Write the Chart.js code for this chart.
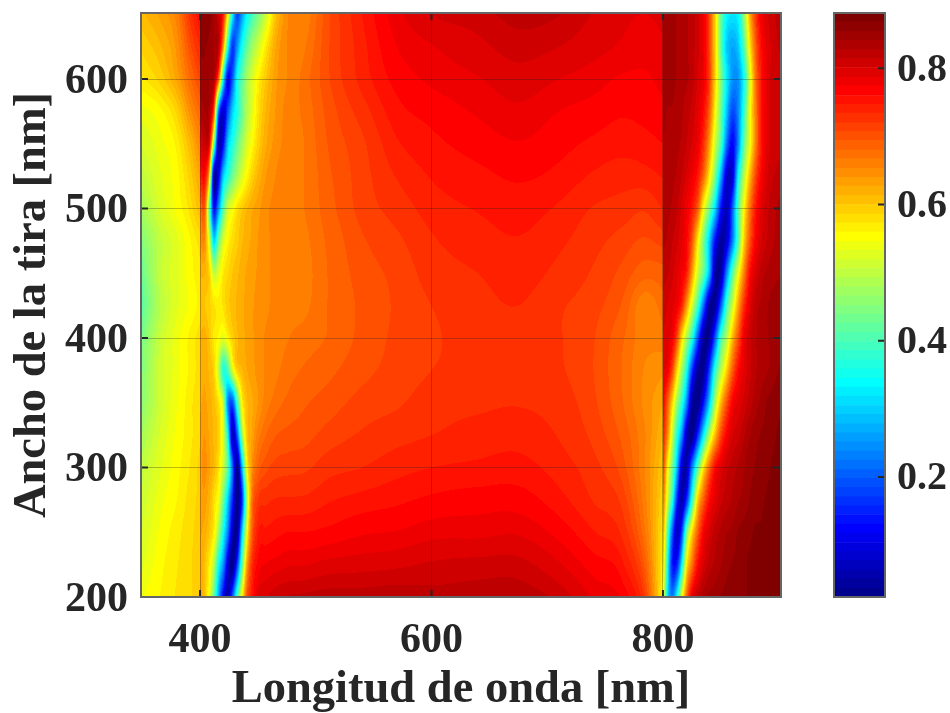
<!DOCTYPE html>
<html>
<head>
<meta charset="utf-8">
<title>Longitud de onda vs ancho de la tira</title>
<script src="https://cdn.jsdelivr.net/npm/chart.js@4"></script>
<style>
  html, body { margin: 0; padding: 0; background: #fff; }
  #wrap { position: relative; width: 950px; height: 713px; overflow: hidden; }
  canvas { position: absolute; top: 0; }
</style>
</head>
<body>
<div id="wrap">
  <canvas id="map" width="950" height="713" style="left:0"></canvas>
  <canvas id="bar" width="130" height="713" style="left:820px"></canvas>
</div>
<script>
// Values. Columns are denser around the two dark bands and
// doubled at 400 and 800, where the map jumps.
const wavelengths = [350,365,380,392,399.9, 400.1,404,408,412,416,420,424,428,432,436,440,445,450,457,465,475,
  490,510,540,570,600,640,675,710,740,765,785,799.9,
  800.1,804,808,812,816,820,825,830,835,840,845,850,855,860,865,870,875,880,885,890,900];
const widths = [200,225,250,275,300,325,350,375,400,425,450,475,500,525,550,575,600,625,650];

const row200 = [.545,.56,.575,.585,.595, .63,.60,.54,.42,.26,.115,.045,.20,.40,.55,.69,.75,.79,.80,.81,.815, .818,.822,.822,.824,.82,.822,.823,.81,.785,.77,.711,.553, .56,.32,.23,.35,.53,.67,.79,.82,.835,.845,.85,.855,.86,.865,.865,.865,.87,.87,.875,.875,.88];
const row225 = [.53,.555,.572,.585,.595, .63,.605,.565,.49,.35,.25,.095,.025,.17,.40,.61,.73,.765,.775,.78,.785, .786,.792,.795,.798,.803,.806,.806,.789,.767,.75,.686,.563, .61,.35,.15,.15,.32,.55,.67,.76,.80,.82,.83,.84,.85,.855,.86,.865,.87,.87,.875,.875,.88];
const row250 = [.52,.548,.568,.583,.593, .63,.62,.60,.565,.47,.35,.23,.075,.035,.28,.52,.69,.745,.75,.755,.76, .76,.764,.772,.775,.782,.783,.785,.769,.748,.73,.666,.573, .65,.41,.21,.075,.165,.41,.58,.69,.77,.80,.82,.83,.84,.845,.855,.86,.865,.87,.87,.875,.88];
const row275 = [.51,.54,.56,.58,.59, .635,.635,.615,.58,.54,.43,.30,.155,.025,.145,.45,.67,.72,.73,.735,.736, .737,.745,.752,.757,.763,.767,.767,.752,.733,.715,.656,.586, .69,.51,.37,.165,.055,.145,.37,.59,.69,.76,.79,.81,.82,.83,.84,.845,.855,.86,.865,.87,.875];
const row300 = [.50,.53,.555,.575,.59, .635,.645,.63,.61,.575,.51,.41,.215,.025,.26,.53,.645,.685,.703,.712,.715, .717,.728,.734,.742,.747,.75,.752,.741,.725,.70,.651,.60, .73,.56,.44,.29,.095,.055,.225,.41,.57,.68,.76,.79,.81,.82,.83,.84,.85,.855,.86,.865,.875];
const row325 = [.48,.52,.55,.57,.585, .63,.64,.625,.61,.59,.52,.35,.075,.195,.45,.59,.63,.66,.68,.693,.698, .702,.712,.722,.729,.734,.74,.742,.733,.716,.69,.653,.613, .75,.65,.51,.37,.255,.085,.025,.155,.33,.49,.61,.71,.77,.80,.81,.825,.84,.85,.855,.86,.87];
const row350 = [.46,.51,.545,.57,.585, .625,.63,.62,.605,.575,.50,.24,.19,.38,.55,.605,.625,.64,.66,.673,.683, .692,.70,.712,.718,.727,.731,.733,.727,.71,.681,.648,.628, .78,.69,.59,.47,.38,.255,.055,.025,.135,.295,.48,.61,.70,.77,.79,.805,.82,.835,.845,.855,.865];
const row375 = [.45,.51,.54,.565,.58, .62,.625,.61,.59,.50,.37,.40,.52,.59,.61,.625,.635,.645,.655,.663,.673, .682,.69,.703,.712,.72,.725,.727,.722,.707,.679,.651,.643, .79,.775,.71,.59,.48,.37,.175,.045,.035,.175,.37,.49,.59,.69,.76,.79,.81,.825,.835,.84,.855];
const row400 = [.44,.505,.54,.565,.58, .615,.62,.60,.57,.555,.53,.56,.59,.61,.62,.63,.638,.645,.655,.66,.666, .672,.681,.698,.71,.718,.725,.727,.721,.708,.682,.658,.66, .80,.79,.775,.71,.59,.49,.37,.195,.045,.045,.195,.39,.49,.61,.70,.78,.81,.825,.835,.84,.85];
const row425 = [.42,.49,.53,.55,.565, .60,.60,.59,.575,.565,.575,.595,.605,.615,.623,.63,.638,.645,.65,.658,.663, .664,.68,.697,.709,.72,.729,.734,.722,.712,.692,.657,.674, .81,.80,.79,.775,.74,.65,.52,.39,.215,.045,.045,.195,.39,.51,.63,.73,.79,.82,.83,.84,.85];
const row450 = [.43,.50,.53,.555,.57, .615,.615,.59,.50,.53,.57,.585,.60,.61,.62,.628,.635,.642,.65,.656,.663, .662,.68,.70,.711,.726,.734,.74,.73,.718,.703,.685,.688, .82,.815,.805,.79,.775,.75,.64,.51,.42,.275,.055,.055,.235,.41,.54,.66,.76,.80,.82,.83,.84];
const row475 = [.45,.50,.53,.56,.58, .64,.65,.52,.31,.43,.52,.56,.58,.595,.61,.62,.63,.64,.65,.656,.663, .664,.682,.705,.717,.732,.741,.746,.737,.725,.714,.705,.712, .83,.825,.815,.805,.79,.77,.70,.57,.44,.30,.135,.045,.09,.23,.41,.59,.70,.77,.80,.815,.835];
const row500 = [.48,.52,.55,.58,.61, .67,.69,.43,.135,.255,.41,.51,.545,.575,.595,.61,.625,.635,.65,.656,.663, .667,.687,.712,.726,.74,.748,.753,.745,.733,.728,.722,.735, .835,.83,.825,.815,.80,.78,.75,.69,.55,.44,.31,.14,.065,.20,.41,.555,.67,.75,.79,.81,.83];
const row525 = [.50,.53,.555,.595,.63, .74,.76,.60,.065,.115,.295,.37,.43,.48,.52,.555,.59,.615,.64,.653,.663, .667,.69,.714,.735,.748,.756,.762,.756,.745,.74,.742,.748, .84,.835,.83,.825,.815,.80,.78,.75,.68,.57,.44,.27,.09,.095,.34,.49,.61,.71,.77,.80,.82];
const row550 = [.52,.54,.565,.615,.655, .79,.81,.78,.44,.07,.13,.295,.36,.42,.47,.515,.555,.59,.625,.645,.658, .667,.694,.717,.745,.756,.766,.773,.765,.757,.752,.755,.76, .84,.84,.835,.83,.825,.815,.80,.78,.73,.64,.51,.40,.22,.125,.24,.42,.54,.66,.75,.79,.81];
const row575 = [.54,.555,.59,.65,.68, .83,.84,.83,.70,.22,.085,.19,.30,.36,.42,.48,.53,.575,.615,.64,.658, .67,.698,.727,.755,.765,.776,.784,.774,.768,.762,.765,.77, .845,.84,.84,.835,.83,.82,.81,.79,.76,.69,.56,.43,.29,.185,.24,.38,.54,.66,.75,.79,.81];
const row600 = [.57,.59,.63,.68,.71, .85,.85,.84,.83,.68,.345,.12,.20,.345,.41,.47,.52,.56,.60,.635,.653, .672,.704,.739,.765,.777,.786,.795,.787,.78,.772,.772,.778, .85,.85,.845,.84,.835,.83,.82,.80,.78,.72,.59,.45,.33,.25,.25,.35,.52,.67,.75,.79,.81];
const row625 = [.59,.61,.645,.705,.735, .855,.855,.85,.84,.82,.64,.36,.17,.25,.345,.41,.47,.51,.57,.625,.653, .665,.704,.742,.774,.786,.797,.807,.801,.792,.785,.78,.785, .85,.85,.845,.84,.84,.83,.82,.805,.78,.71,.59,.42,.30,.265,.295,.41,.57,.69,.76,.79,.815];
const row650 = [.61,.63,.66,.73,.76, .86,.86,.86,.84,.81,.75,.56,.34,.185,.25,.33,.39,.44,.51,.60,.65, .657,.702,.747,.782,.801,.808,.82,.815,.80,.79,.787,.79, .85,.85,.845,.84,.84,.83,.82,.805,.78,.71,.59,.43,.34,.32,.34,.46,.62,.72,.78,.80,.82];

const rows = [row200,row225,row250,row275,row300,row325,row350,row375,row400,row425,row450,row475,row500,row525,row550,row575,row600,row625,row650];

// colour band edges of the colorbar, 64 bands
const colorEdges = [.024,.037,.051,.064,.078,.091,.104,.118,.131,.145,.158,.171,.185,.198,.211,.225,
  .238,.252,.265,.278,.292,.305,.319,.332,.345,.359,.372,.386,.399,.412,.426,.439,
  .452,.466,.479,.493,.506,.519,.533,.546,.560,.573,.586,.600,.613,.627,.640,.653,
  .667,.680,.694,.707,.720,.734,.747,.760,.774,.787,.801,.814,.827,.841,.854,.868,.881];

const xTicks = [400,600,800];
const yTicks = [200,300,400,500,600];
const barTicks = [0.2,0.4,0.6,0.8];
const xTitle = "Longitud de onda [nm]";
const yTitle = "Ancho de la tira [nm]";

const FONT = "'Liberation Serif', 'Times New Roman', serif";
const TEXT = "#262626";

// ============== jet colours ==============
function clip01(v) { return Math.max(0, Math.min(1, v)); }
function jet(i) {
  const r = clip01(Math.min((i - 23) / 16, (71 - i) / 16));
  const g = clip01(Math.min((i - 7) / 16, (55 - i) / 16));
  const b = clip01(Math.min((i + 9) / 16, (39 - i) / 16));
  return [Math.round(r * 255), Math.round(g * 255), Math.round(b * 255)];
}
function bandOf(v) {
  let i = 0;
  while (i < 63 && v >= colorEdges[i + 1]) i++;
  return i;
}
function findCell(list, v) {
  let lo = 0, hi = list.length - 1;
  while (hi - lo > 1) {
    const mid = (lo + hi) >> 1;
    if (list[mid] <= v) lo = mid; else hi = mid;
  }
  return lo;
}

// parabolic slopes for the shading between read values; the 400/800 jumps stay one-sided
function slopes(xs, ys) {
  const n = xs.length, d = new Array(n), sec = new Array(n - 1);
  for (let i = 0; i < n - 1; i++) sec[i] = (ys[i + 1] - ys[i]) / (xs[i + 1] - xs[i]);
  d[0] = sec[0];
  d[n - 1] = sec[n - 2];
  for (let i = 1; i < n - 1; i++) {
    const h0 = xs[i] - xs[i - 1], h1 = xs[i + 1] - xs[i];
    if (h0 < 1) d[i] = sec[i];
    else if (h1 < 1) d[i] = sec[i - 1];
    else d[i] = (h1 * sec[i - 1] + h0 * sec[i]) / (h0 + h1);
  }
  return d;
}
function hermite(x0, x1, y0, y1, d0, d1, x) {
  const h = x1 - x0, s = clip01((x - x0) / h), s2 = s * s, s3 = s2 * s;
  if (h < 1) return s < 0.5 ? y0 : y1;
  return (2 * s3 - 3 * s2 + 1) * y0 + (s3 - 2 * s2 + s) * h * d0 +
         (-2 * s3 + 3 * s2) * y1 + (s3 - s2) * h * d1;
}

// ============== shaded map ==============
const mapShade = {
  id: "mapShade",
  beforeDatasetsDraw(chart) {
    const { ctx, chartArea: a, scales } = chart;
    const w = Math.round(a.right - a.left), h = Math.round(a.bottom - a.top);
    const img = ctx.createImageData(w, h);
    const palette = colorEdges.slice(0, 64).map((_, i) => jet(i));
    const nc = wavelengths.length;
    const colSlopes = wavelengths.map((_, c) => slopes(widths, rows.map(r => r[c])));
    const xv = [];
    for (let px = 0; px < w; px++) {
      const x = Math.min(900, scales.x.getValueForPixel(a.left + px + 0.5));
      xv.push([findCell(wavelengths, x), x]);
    }
    const line = new Array(nc);
    for (let py = 0; py < h; py++) {
      const y = scales.y.getValueForPixel(a.top + py + 0.5);
      const r = findCell(widths, y);
      for (let c = 0; c < nc; c++) {
        line[c] = hermite(widths[r], widths[r + 1], rows[r][c], rows[r + 1][c], colSlopes[c][r], colSlopes[c][r + 1], y);
      }
      const d = slopes(wavelengths, line);
      for (let px = 0; px < w; px++) {
        const [c, x] = xv[px];
        const v = hermite(wavelengths[c], wavelengths[c + 1], line[c], line[c + 1], d[c], d[c + 1], x);
        const col = palette[bandOf(v)];
        const k = (py * w + px) * 4;
        img.data[k] = col[0];
        img.data[k + 1] = col[1];
        img.data[k + 2] = col[2];
        img.data[k + 3] = 255;
      }
    }
    ctx.putImageData(img, Math.round(a.left), Math.round(a.top));
  }
};

// ============== frame and inside tick marks ==============
function frameWithTicks(sides) {
  return {
    id: "frameWithTicks",
    afterDraw(chart) {
      const { ctx, chartArea: a, scales } = chart;
      ctx.save();
      ctx.strokeStyle = "#262626";
      ctx.lineWidth = 2;
      ctx.beginPath();
      if (sides.includes("y")) {
        scales.y.ticks.forEach(t => {
          const y = scales.y.getPixelForValue(t.value);
          ctx.moveTo(a.right, y); ctx.lineTo(a.right - 7, y);
          if (sides.includes("x")) { ctx.moveTo(a.left, y); ctx.lineTo(a.left + 7, y); }
        });
      }
      if (sides.includes("x")) {
        scales.x.ticks.forEach(t => {
          const x = scales.x.getPixelForValue(t.value);
          ctx.moveTo(x, a.bottom); ctx.lineTo(x, a.bottom - 7);
          ctx.moveTo(x, a.top); ctx.lineTo(x, a.top + 7);
        });
      }
      ctx.stroke();
      ctx.strokeStyle = "#666";
      ctx.strokeRect(a.left, a.top, a.right - a.left, a.bottom - a.top);
      ctx.restore();
    }
  };
}

function noScalePadding(axis) {
  axis.paddingTop = 0;
  axis.paddingBottom = 0;
  axis.paddingLeft = 0;
  axis.paddingRight = 0;
}

// ============== main chart ==============
function renderMap() {
  const points = [];
  widths.forEach((y, r) => wavelengths.forEach((x, c) => points.push({ x, y, v: rows[r][c] })));
  new Chart(document.getElementById("map").getContext("2d"), {
    type: "scatter",
    data: { datasets: [{ label: "map", data: points, pointRadius: 0, pointHoverRadius: 0 }] },
    options: {
      responsive: false,
      animation: false,
      events: [],
      layout: { padding: { top: 13, right: 169, left: 0, bottom: 0 } },
      plugins: { legend: { display: false }, tooltip: { enabled: false } },
      scales: {
        x: {
          type: "linear",
          min: 349, max: 902,
          afterBuildTicks: axis => { axis.ticks = xTicks.map(value => ({ value })); },
          afterFit: axis => { axis.height = 116; noScalePadding(axis); },
          grid: { z: 1, color: "rgba(30,30,30,0.3)", lineWidth: 1, drawTicks: false },
          border: { display: false },
          ticks: { color: TEXT, padding: 19, maxRotation: 0, font: { family: FONT, size: 42, weight: "bold" } },
          title: { display: true, text: xTitle, color: TEXT, padding: { top: 0, bottom: 0 },
                   font: { family: FONT, size: 46.5, weight: "bold", lineHeight: 1 } },
        },
        y: {
          type: "linear",
          min: 200, max: 651,
          afterBuildTicks: axis => { axis.ticks = yTicks.map(value => ({ value })); },
          afterFit: axis => { axis.width = 141; noScalePadding(axis); },
          grid: { z: 1, color: "rgba(30,30,30,0.3)", lineWidth: 1, drawTicks: false },
          border: { display: false },
          ticks: { color: TEXT, padding: 13, labelOffset: 3, font: { family: FONT, size: 42, weight: "bold" } },
          title: { display: true, text: yTitle, color: TEXT, padding: { top: 10, bottom: 0 },
                   font: { family: FONT, size: 46.5, weight: "bold", lineHeight: 1 } },
        },
      },
    },
    plugins: [mapShade, frameWithTicks("xy")],
  });
}

// ============== colorbar ==============
function renderColorbar() {
  const datasets = colorEdges.slice(0, 64).map((lo, i) => {
    const c = jet(i);
    return {
      data: [[lo, colorEdges[i + 1]]],
      backgroundColor: `rgb(${c[0]},${c[1]},${c[2]})`,
      borderWidth: 0,
      grouped: false,
      barPercentage: 1,
      categoryPercentage: 1,
    };
  });
  new Chart(document.getElementById("bar").getContext("2d"), {
    type: "bar",
    data: { labels: ["colorbar"], datasets },
    options: {
      responsive: false,
      animation: false,
      events: [],
      layout: { padding: { top: 13, bottom: 116, left: 14, right: 0 } },
      plugins: { legend: { display: false }, tooltip: { enabled: false } },
      scales: {
        x: { display: false },
        y: {
          position: "right",
          min: colorEdges[0], max: colorEdges[64],
          afterBuildTicks: axis => { axis.ticks = barTicks.map(value => ({ value })); },
          afterFit: axis => { axis.width = 65; noScalePadding(axis); },
          grid: { display: false, drawTicks: false },
          border: { display: false },
          ticks: { color: TEXT, padding: 12, labelOffset: 2, callback: v => v.toFixed(1),
                   font: { family: FONT, size: 40, weight: "bold" } },
        },
      },
    },
    plugins: [frameWithTicks("y")],
  });
}

// ============== Boot ==============
document.addEventListener("DOMContentLoaded", () => {
  renderMap();
  renderColorbar();
});
</script>
</body>
</html>
